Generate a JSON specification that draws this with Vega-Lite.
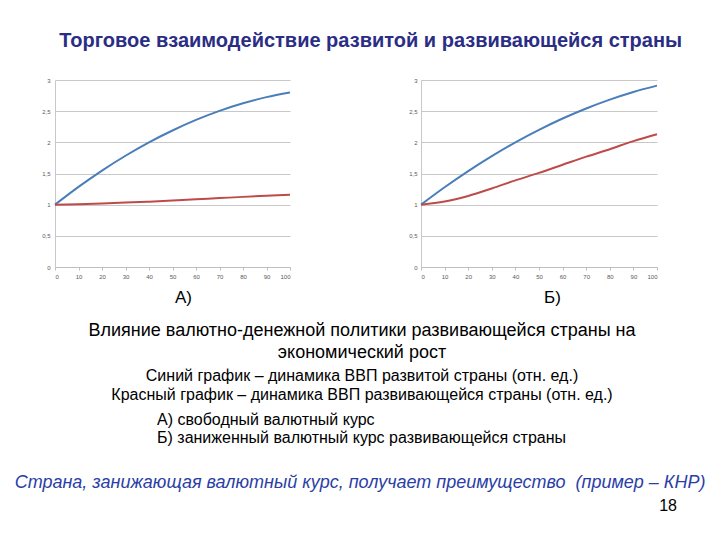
{
  "$schema": "https://vega.github.io/schema/vega-lite/v6.json",
  "padding": {"left": 0, "top": 31, "right": 0, "bottom": 0},
  "background": "white",
  "config": {"font": "Liberation Sans", "view": {"stroke": null}},
  "title": {"text": "Торговое взаимодействие развитой и развивающейся страны", "fontSize": 20, "fontWeight": "bold", "color": "#2B2D85", "anchor": "middle", "offset": 26, "dx": 18},
  "datasets": {
    "growth": [
      {"panel": "А", "series": "developed", "x": 0, "y": 1.0},
      {"panel": "А", "series": "developed", "x": 10, "y": 1.285},
      {"panel": "А", "series": "developed", "x": 20, "y": 1.547},
      {"panel": "А", "series": "developed", "x": 30, "y": 1.785},
      {"panel": "А", "series": "developed", "x": 40, "y": 2.0},
      {"panel": "А", "series": "developed", "x": 50, "y": 2.19},
      {"panel": "А", "series": "developed", "x": 60, "y": 2.36},
      {"panel": "А", "series": "developed", "x": 70, "y": 2.505},
      {"panel": "А", "series": "developed", "x": 80, "y": 2.627},
      {"panel": "А", "series": "developed", "x": 90, "y": 2.725},
      {"panel": "А", "series": "developed", "x": 100, "y": 2.8},
      {"panel": "А", "series": "developing", "x": 0, "y": 1.0},
      {"panel": "А", "series": "developing", "x": 10, "y": 1.008},
      {"panel": "А", "series": "developing", "x": 20, "y": 1.02},
      {"panel": "А", "series": "developing", "x": 30, "y": 1.033},
      {"panel": "А", "series": "developing", "x": 40, "y": 1.048},
      {"panel": "А", "series": "developing", "x": 50, "y": 1.065},
      {"panel": "А", "series": "developing", "x": 60, "y": 1.085},
      {"panel": "А", "series": "developing", "x": 70, "y": 1.105},
      {"panel": "А", "series": "developing", "x": 80, "y": 1.125},
      {"panel": "А", "series": "developing", "x": 90, "y": 1.143},
      {"panel": "А", "series": "developing", "x": 100, "y": 1.16},
      {"panel": "Б", "series": "developed", "x": 0, "y": 1.0},
      {"panel": "Б", "series": "developed", "x": 10, "y": 1.279},
      {"panel": "Б", "series": "developed", "x": 20, "y": 1.539},
      {"panel": "Б", "series": "developed", "x": 30, "y": 1.779},
      {"panel": "Б", "series": "developed", "x": 40, "y": 2.0},
      {"panel": "Б", "series": "developed", "x": 50, "y": 2.2},
      {"panel": "Б", "series": "developed", "x": 60, "y": 2.382},
      {"panel": "Б", "series": "developed", "x": 70, "y": 2.543},
      {"panel": "Б", "series": "developed", "x": 80, "y": 2.685},
      {"panel": "Б", "series": "developed", "x": 90, "y": 2.808},
      {"panel": "Б", "series": "developed", "x": 100, "y": 2.91},
      {"panel": "Б", "series": "developing", "x": 0, "y": 1.0},
      {"panel": "Б", "series": "developing", "x": 10, "y": 1.05},
      {"panel": "Б", "series": "developing", "x": 20, "y": 1.14},
      {"panel": "Б", "series": "developing", "x": 30, "y": 1.26},
      {"panel": "Б", "series": "developing", "x": 40, "y": 1.39},
      {"panel": "Б", "series": "developing", "x": 50, "y": 1.51},
      {"panel": "Б", "series": "developing", "x": 60, "y": 1.64},
      {"panel": "Б", "series": "developing", "x": 70, "y": 1.77},
      {"panel": "Б", "series": "developing", "x": 80, "y": 1.89},
      {"panel": "Б", "series": "developing", "x": 90, "y": 2.02},
      {"panel": "Б", "series": "developing", "x": 100, "y": 2.13}
    ]
  },
  "spacing": 6,
  "vconcat": [
    {
      "spacing": 107,
      "hconcat": [
        {
          "width": 235, "height": 187,
          "data": {"name": "growth"},
          "transform": [{"filter": "datum.panel === 'А'"}],
          "mark": {"type": "line", "strokeWidth": 2, "interpolate": "monotone"},
          "encoding": {
            "x": {"field": "x", "type": "quantitative", "scale": {"domain": [0, 100], "nice": false},
              "axis": {"values": [0,10,20,30,40,50,60,70,80,90,100], "grid": false, "labelFontSize": 6, "labelColor": "#595959", "tickColor": "#BFBFBF", "tickSize": 3, "domainColor": "#BFBFBF", "labelPadding": 3, "title": "А)", "titleFontSize": 17, "titleFontWeight": "normal", "titleColor": "#000000", "titlePadding": 10, "titleX": 128}},
            "y": {"field": "y", "type": "quantitative", "scale": {"domain": [0, 3], "nice": false},
              "axis": {"values": [0,0.5,1,1.5,2,2.5,3], "labelExpr": "replace(format(datum.value, ''), '.', ',')", "grid": true, "gridColor": "#C8C8C8", "ticks": false, "domainColor": "#C8C8C8", "labelFontSize": 6, "labelColor": "#595959", "labelPadding": 5, "title": null, "minExtent": 55, "maxExtent": 55}},
            "color": {"field": "series", "type": "nominal", "scale": {"domain": ["developed", "developing"], "range": ["#4A7EBB", "#BE4B48"]}, "legend": null}
          }
        },
        {
          "width": 236, "height": 187,
          "data": {"name": "growth"},
          "transform": [{"filter": "datum.panel === 'Б'"}],
          "mark": {"type": "line", "strokeWidth": 2, "interpolate": "monotone"},
          "encoding": {
            "x": {"field": "x", "type": "quantitative", "scale": {"domain": [0, 100], "nice": false},
              "axis": {"values": [0,10,20,30,40,50,60,70,80,90,100], "grid": false, "labelFontSize": 6, "labelColor": "#595959", "tickColor": "#BFBFBF", "tickSize": 3, "domainColor": "#BFBFBF", "labelPadding": 3, "title": "Б)", "titleFontSize": 17, "titleFontWeight": "normal", "titleColor": "#000000", "titlePadding": 10, "titleX": 131}},
            "y": {"field": "y", "type": "quantitative", "scale": {"domain": [0, 3], "nice": false},
              "axis": {"values": [0,0.5,1,1.5,2,2.5,3], "labelExpr": "replace(format(datum.value, ''), '.', ',')", "grid": true, "gridColor": "#C8C8C8", "ticks": false, "domainColor": "#C8C8C8", "labelFontSize": 6, "labelColor": "#595959", "labelPadding": 4, "title": null, "minExtent": 20, "maxExtent": 20}},
            "color": {"field": "series", "type": "nominal", "scale": {"domain": ["developed", "developing"], "range": ["#4A7EBB", "#BE4B48"]}, "legend": null}
          }
        }
      ]
    },
    {
      "width": 640, "height": 200,
      "encoding": {
        "x": {"type": "quantitative", "scale": {"domain": [0, 100]}, "axis": null},
        "y": {"type": "quantitative", "scale": {"domain": [100, 0]}, "axis": null}
      },
      "layer": [
        {
          "data": {"values": [{"text": ["Влияние валютно-денежной политики развивающейся страны на", "экономический рост"]}]},
          "mark": {"type": "text", "align": "center", "baseline": "alphabetic", "fontSize": 18, "lineHeight": 22, "color": "#000000"},
          "encoding": {"x": {"datum": 47.97}, "y": {"datum": 12.5}, "text": {"field": "text"}}
        },
        {
          "data": {"values": [{"text": ["Синий график – динамика ВВП развитой страны (отн. ед.)", "Красный график – динамика ВВП развивающейся страны (отн. ед.)"]}]},
          "mark": {"type": "text", "align": "center", "baseline": "alphabetic", "fontSize": 16, "lineHeight": 19, "color": "#000000"},
          "encoding": {"x": {"datum": 47.97}, "y": {"datum": 34.75}, "text": {"field": "text"}}
        },
        {
          "data": {"values": [{"text": ["А) свободный валютный курс", "Б) заниженный валютный курс развивающейся страны"]}]},
          "mark": {"type": "text", "align": "left", "baseline": "alphabetic", "fontSize": 16, "lineHeight": 18, "color": "#000000"},
          "encoding": {"x": {"datum": 15.94}, "y": {"datum": 56.75}, "text": {"field": "text"}}
        },
        {
          "data": {"values": [{"text": "Страна, занижающая валютный курс, получает преимущество\u00a0 (пример – КНР)"}]},
          "mark": {"type": "text", "align": "center", "baseline": "alphabetic", "fontSize": 18, "fontStyle": "italic", "color": "#2A3EA6"},
          "encoding": {"x": {"datum": 47.66}, "y": {"datum": 88.5}, "text": {"field": "text"}}
        },
        {
          "data": {"values": [{"text": "18"}]},
          "mark": {"type": "text", "align": "right", "baseline": "alphabetic", "fontSize": 16, "color": "#000000"},
          "encoding": {"x": {"datum": 97.19}, "y": {"datum": 100}, "text": {"field": "text"}}
        }
      ]
    }
  ]
}
